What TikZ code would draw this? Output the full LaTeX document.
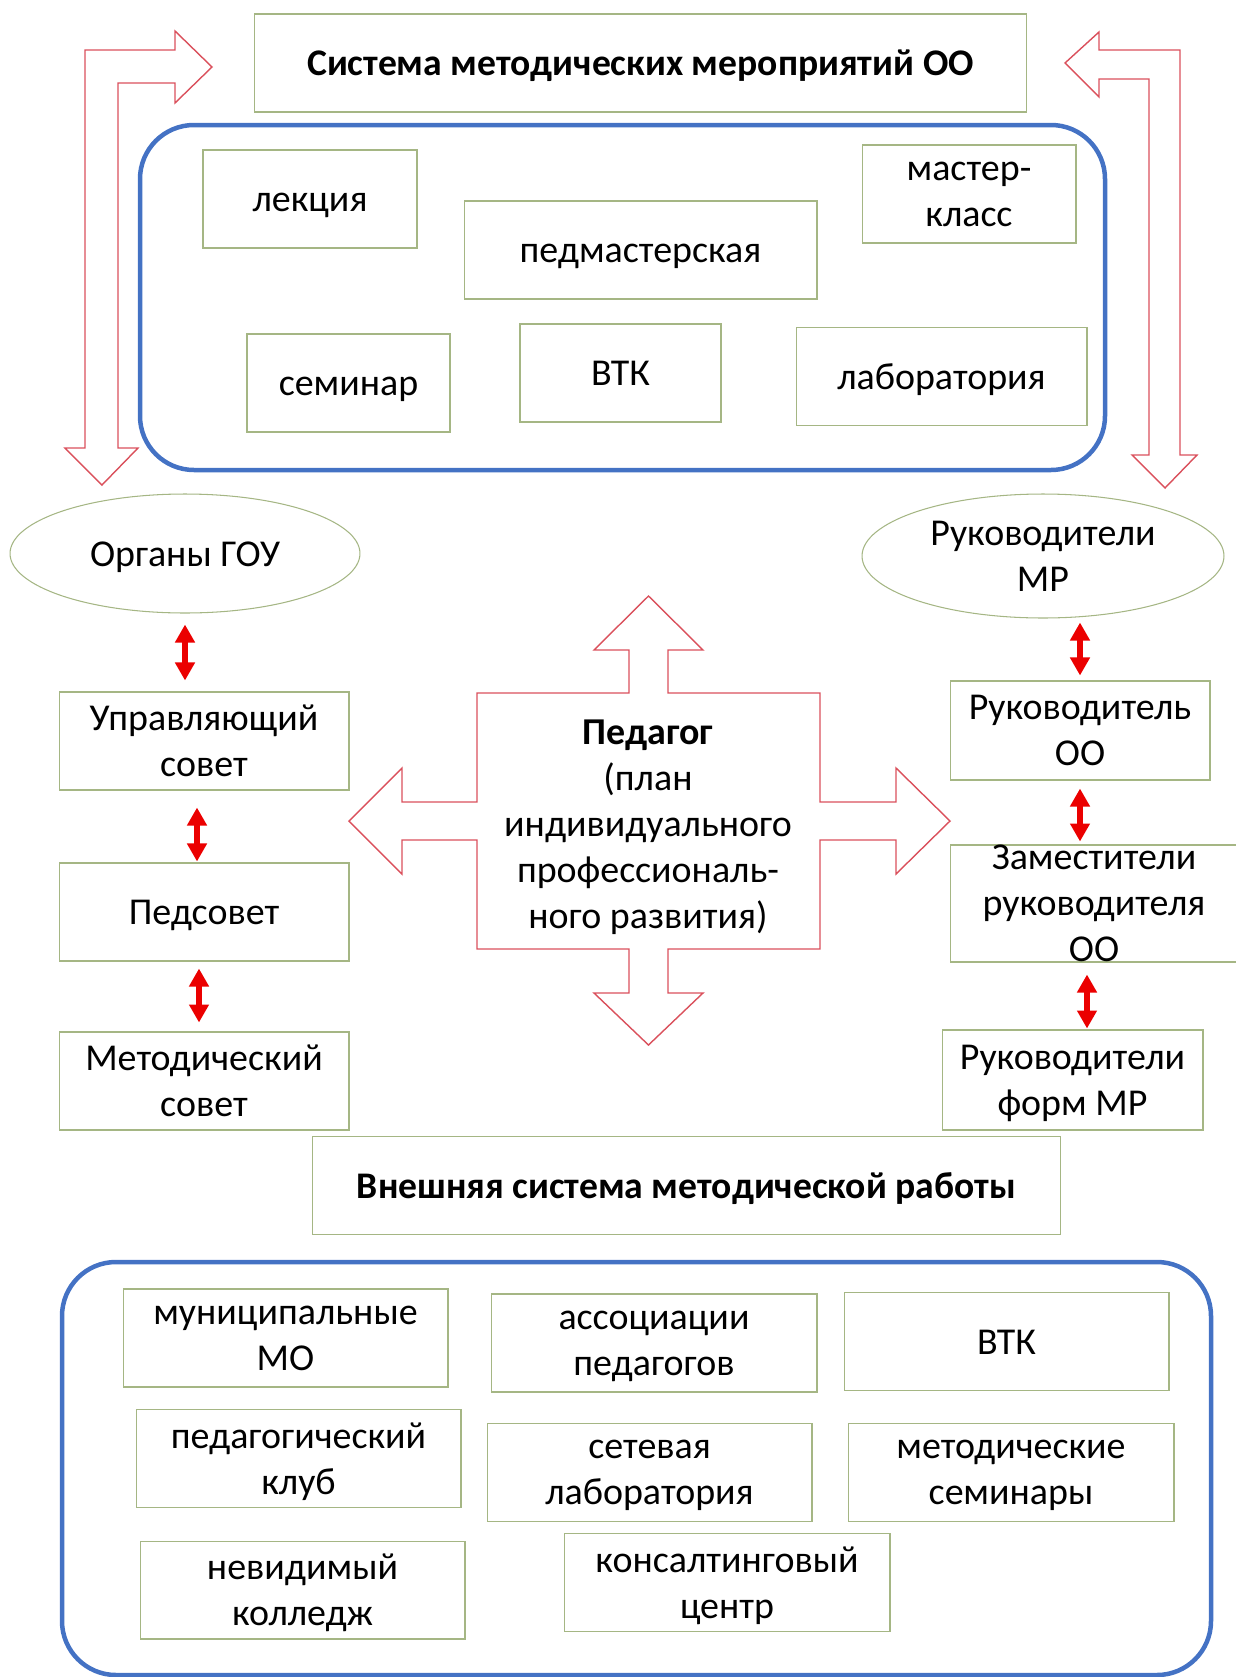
\documentclass[tikz,border=0pt]{standalone}
\usepackage{fontspec}
\setmainfont{Carlito}
\usepackage{tikz}
\usetikzlibrary{calc}
\usetikzlibrary{arrows.meta,shapes.geometric}

\definecolor{boxgreen}{RGB}{165,182,132}
\definecolor{frameblue}{RGB}{68,114,196}
\definecolor{blockred}{RGB}{218,80,92}
\definecolor{linkred}{RGB}{235,0,0}

\newcommand{\boxfont}{\fontsize{21.6pt}{26.2pt}\selectfont}
\newcommand{\headfont}{\fontsize{21.4pt}{26.2pt}\selectfont\bfseries}

\begin{document}
\begin{tikzpicture}
% styles (1 unit = 1 pixel of the scheme)
[
    x=0.02cm, y=-0.02cm,
    lines/.style={execute at begin node=\vphantom{Уй}, text depth=0pt},
    box/.style={draw=boxgreen, line width=0.6pt, inner sep=0pt, align=center,
      minimum height=1.96cm, font=\boxfont, lines},
    oval/.style={ellipse, draw=boxgreen, line width=0.6pt, inner sep=0pt,
      align=center, font=\boxfont, lines},
    frame/.style={draw=frameblue, line width=0.09cm, rounded corners=1.08cm},
    block/.style={draw=blockred, line width=0.8pt, line join=miter},
    dbl/.style={linkred, line width=0.12cm,
      {Triangle[length=0.36cm,width=0.38cm]}-{Triangle[length=0.36cm,width=0.38cm]}}
]

\useasboundingbox (0,0) rectangle (1235,1677);

% upper system
\node[box, minimum width=15.46cm, font=\headfont] (sys) at (640.5,63)
  {Система методических мероприятий ОО};
\draw[frame] (140,125) rectangle (1105,470);
\node[box, minimum width=4.28cm] (lek) at (310,199) {лекция};
\node[box, minimum width=7.06cm] (pedm) at (640.5,250) {педмастерская};
\node[box, minimum width=4.28cm] (mast) at (969,194) {мастер-\\класс};
\node[box, minimum width=4.06cm] (sem) at (348.5,383) {семинар};
\node[box, minimum width=4.02cm] (vtk) at (620.5,373) {ВТК};
\node[box, minimum width=5.82cm] (lab) at (941.5,376.5) {лаборатория};

% bent block arrows
\draw[block] (85,448) -- (65,448) -- (102,485) -- (138,448) -- (118,448)
  -- (118,83) -- (175,83) -- (175,103) -- (212,67) -- (175,31) -- (175,50)
  -- (85,50) -- cycle;
\draw[block] (1180,455) -- (1197,455) -- (1165,488) -- (1132,455) -- (1149,455)
  -- (1149,79) -- (1099,79) -- (1099,97) -- (1065,63) -- (1099,32) -- (1099,50)
  -- (1180,50) -- cycle;

% left column
\node[oval, minimum width=7cm, minimum height=2.38cm] (gou) at (185,553.5) {Органы ГОУ};
\node[box, minimum width=5.8cm] (uprav) at (204,741) {Управляющий\\совет};
\node[box, minimum width=5.8cm] (pedsov) at (204,912) {Педсовет};
\node[box, minimum width=5.8cm] (metsov) at (204,1081) {Методический\\совет};

\draw[dbl, shorten <=0.22cm, shorten >=0.22cm] (gou.south) -- (gou.south |- uprav.north);
\draw[dbl, shorten <=0.34cm, shorten >=0.02cm] ([xshift=-0.14cm]uprav.south) -- ([xshift=-0.14cm]pedsov.north);
\draw[dbl, shorten <=0.14cm, shorten >=0.18cm] ([xshift=-0.1cm]pedsov.south) -- ([xshift=-0.1cm]metsov.north);

% right column
\node[oval, minimum width=7.24cm, minimum height=2.48cm] (rmr) at (1043,556) {Руководители\\МР};
\node[box, minimum width=5.2cm, minimum height=1.98cm] (rukoo) at (1080,730.5) {Руководитель\\ОО};
\node[box, minimum width=5.76cm, minimum height=2.34cm] (zam) at (1094,903.5) {};
\node[align=center, font=\boxfont, inner sep=0pt, lines] (zamtxt) at (zam.center)
  {Заместители\\руководителя\\ОО};
\node[box, minimum width=5.22cm, minimum height=2cm] (formmr) at (1072.5,1080) {Руководители\\форм МР};

\draw[dbl, shorten <=0.08cm, shorten >=0.1cm] (rukoo.north |- rmr.south) -- (rukoo.north);
\draw[dbl, shorten <=0.16cm, shorten >=0.06cm] (rukoo.south) -- (rukoo.south |- zam.north);
\draw[dbl, shorten <=0.24cm, shorten >=0.02cm] ([xshift=-0.14cm]zam.south) -- ([xshift=-0.14cm]zam.south |- formmr.north);

% teacher cross
\draw[block] (648.5,596) -- (703,650) -- (668,650) -- (668,693) -- (820,693)
  -- (820,802) -- (896,802) -- (896,768) -- (950,821) -- (896,874) -- (896,840)
  -- (820,840) -- (820,949) -- (668,949) -- (668,993) -- (703,993) -- (648.5,1045)
  -- (594,993) -- (629,993) -- (629,949) -- (477,949) -- (477,840) -- (402,840)
  -- (402,874) -- (349,821) -- (402,768) -- (402,802) -- (477,802) -- (477,693)
  -- (629,693) -- (629,650) -- (594,650) -- cycle;
\node[align=center, font=\boxfont, inner sep=0pt, lines] (ped) at (648,824)
  {\textbf{Педагог}\\(план\\индивидуального\\профессиональ-\\ного развития)};

% outer system
\node[box, minimum width=14.98cm, font=\headfont] (ext) at (686.5,1185.5)
  {Внешняя система методической работы};
\draw[frame] (62,1262) rectangle (1211,1675);
\node[box, minimum width=6.5cm] (munmo) at (285.5,1338) {муниципальные\\МО};
\node[box, minimum width=6.52cm] (assoc) at (654,1343) {ассоциации\\педагогов};
\node[box, minimum width=6.5cm] (vtkext) at (1006.5,1341.5) {ВТК};
\node[box, minimum width=6.5cm] (klub) at (298.5,1458.5) {педагогический\\клуб};
\node[box, minimum width=6.5cm] (setlab) at (649.5,1472.5) {сетевая\\лаборатория};
\node[box, minimum width=6.52cm] (metsem) at (1011,1472.5) {методические\\семинары};
\node[box, minimum width=6.5cm] (nevid) at (302.5,1590) {невидимый\\колледж};
\node[box, minimum width=6.52cm] (kons) at (727,1582.5) {консалтинговый\\центр};

\end{tikzpicture}
\end{document}
